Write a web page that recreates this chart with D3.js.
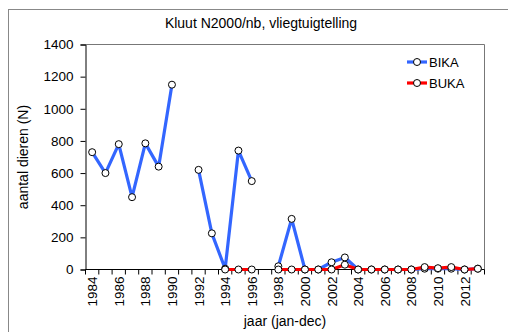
<!DOCTYPE html>
<html>
<head>
<meta charset="utf-8">
<script src="https://cdn.jsdelivr.net/npm/d3@7"></script>
<style>
  html, body { margin: 0; padding: 0; background: #fff; }
  svg { display: block; font-family: "Liberation Sans", Arial, sans-serif; }
</style>
</head>
<body>
<svg id="chart" width="508" height="332"></svg>
<script>
// Yearly counts (null = no survey that year)
const years = d3.range(1984, 2014);
const bika = [730, 600, 780, 450, 785, 640, 1150, null, 620, 225, 5, 740, 550, null,
              20, 315, 0, 0, 45, 75, 0, 0, 0, 0, 0, 5, 5, 5, 0, 5];
const buka = [null, null, null, null, null, null, null, null, null, null, 0, 0, 0, null,
              0, 0, 0, 0, 0, 30, 0, 0, 0, 0, 0, 15, 8, 15, 0, 5];
const yTicks = [0, 200, 400, 600, 800, 1000, 1200, 1400];
const xLabelYears = years.filter(y => y % 2 === 0);
const seriesNames = ["BIKA", "BUKA"];
const seriesColors = ["#3366ff", "#ff0000"];

const svg = d3.select("#chart");
const m = { left: 85.5, top: 44.5, right: 484.5, bottom: 269.5 };

// outer frame
svg.append("rect").attr("x", 8.5).attr("y", 9.5).attr("width", 520).attr("height", 340)
  .attr("fill", "none").attr("stroke", "#888").attr("stroke-width", 1);

const x = d3.scaleBand().domain(years).range([m.left, m.right]).padding(0);
const y = d3.scaleLinear().domain([0, 1400]).range([m.bottom, m.top]);

// plot box (top/right)
svg.append("path")
  .attr("d", `M${m.left},${m.top}H${m.right}V${m.bottom}`)
  .attr("fill", "none").attr("stroke", "#777").attr("stroke-width", 1);

// y axis
const yAxis = svg.append("g").attr("transform", `translate(${m.left},0)`)
  .call(d3.axisLeft(y).tickValues(yTicks).tickFormat(d3.format("d")).tickSize(5).tickPadding(7));
yAxis.select(".domain").attr("stroke", "#000");
yAxis.selectAll("text").attr("font-size", 13.5).attr("fill", "#000")
  .attr("font-family", "'Liberation Sans', Arial, sans-serif");

// x axis: ticks on band edges, labels every other year
const xg = svg.append("g").attr("transform", `translate(0,${m.bottom})`);
xg.append("line").attr("x1", m.left).attr("x2", m.right).attr("stroke", "#000");
const edges = d3.range(years.length + 1).map(i => m.left + i * x.bandwidth());
xg.selectAll("line.tick").data(edges).join("line").attr("class", "tick")
  .attr("x1", d => d).attr("x2", d => d).attr("y1", 0).attr("y2", 5).attr("stroke", "#000");
xg.selectAll("text").data(xLabelYears).join("text")
  .attr("transform", d => `translate(${x(d) + x.bandwidth() / 2 + 5},${7}) rotate(-90)`)
  .attr("text-anchor", "end").attr("font-size", 13.5).attr("fill", "#000")
  .text(d => d);

// series
const line = d3.line().defined(d => d.v !== null)
  .x(d => x(d.year) + x.bandwidth() / 2).y(d => y(d.v));
[bika, buka].forEach((vals, si) => {
  const pts = years.map((yr, i) => ({ year: yr, v: vals[i] }));
  svg.append("path").datum(pts).attr("d", line)
    .attr("fill", "none").attr("stroke", seriesColors[si]).attr("stroke-width", 3.2)
    .attr("stroke-linejoin", "round");
  svg.append("g").selectAll("circle").data(pts.filter(d => d.v !== null)).join("circle")
    .attr("cx", d => x(d.year) + x.bandwidth() / 2).attr("cy", d => y(d.v))
    .attr("r", 3.5).attr("fill", "#fff").attr("stroke", "#000").attr("stroke-width", 1);
});

// title and axis titles
svg.append("text").attr("x", 261).attr("y", 28).attr("text-anchor", "middle")
  .attr("font-size", 14).text("Kluut N2000/nb, vliegtuigtelling");
svg.append("text").attr("transform", `translate(28,${(m.top + m.bottom) / 2}) rotate(-90)`)
  .attr("text-anchor", "middle").attr("font-size", 14).text("aantal dieren (N)");
svg.append("text").attr("x", (m.left + m.right) / 2).attr("y", 326).attr("text-anchor", "middle")
  .attr("font-size", 14).text("jaar (jan-dec)");

// legend
const lg = svg.append("g");
seriesNames.forEach((name, i) => {
  const ly = 62 + i * 21;
  lg.append("line").attr("x1", 407).attr("x2", 427).attr("y1", ly).attr("y2", ly)
    .attr("stroke", seriesColors[i]).attr("stroke-width", 3.2);
  lg.append("circle").attr("cx", 417).attr("cy", ly).attr("r", 3.5)
    .attr("fill", "#fff").attr("stroke", "#000");
  lg.append("text").attr("x", 429).attr("y", ly + 5).attr("font-size", 13).text(name);
});
</script>
</body>
</html>
